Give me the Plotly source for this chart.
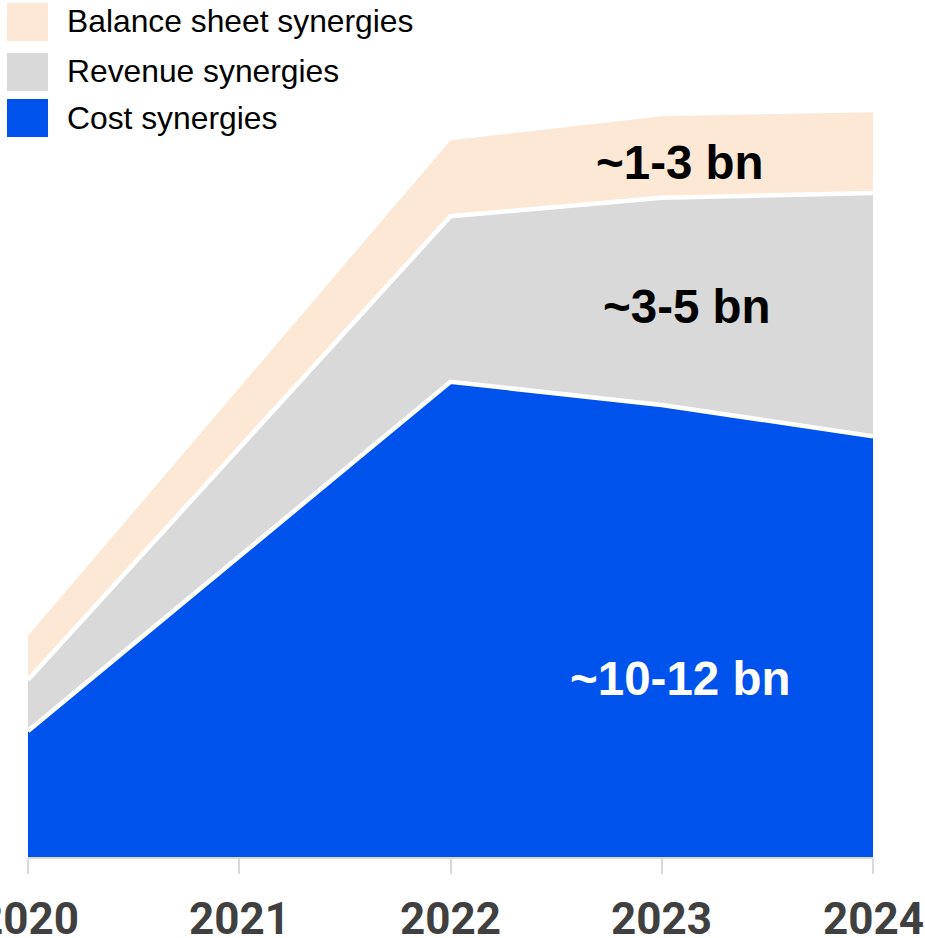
import plotly.graph_objects as go

# Synergy build-up by year (index units, stacked)
years = [2020, 2021, 2022, 2023, 2024]
cost = [15.75, 37.5, 59.4, 56.5, 52.6]
revenue = [6.4, 13.6, 20.7, 25.9, 30.4]
balance = [5.5, 7.5, 9.5, 10.2, 10.1]

series_names = ["Cost synergies", "Revenue synergies", "Balance sheet synergies"]
series_colors = ["#0052EC", "#D9D9D9", "#FCE8D5"]
band_labels = ["~10-12 bn", "~3-5 bn", "~1-3 bn"]

W, H = 925, 938
L, R, T, B = 28, 52, 57, 81
plot_w = W - L - R
plot_h = H - T - B

fig = go.Figure()
for vals, name, color, lw in zip([cost, revenue, balance], series_names, series_colors, [4.5, 4.5, 0]):
    fig.add_trace(go.Scatter(
        x=years, y=vals, name=name, mode="lines",
        stackgroup="s", fillcolor=color,
        line=dict(color="white", width=lw),
        showlegend=False, hoverinfo="skip",
    ))

# Band labels placed in the right half of each band
label_pos = [
    (2023.085, 22.3, "white"),
    (2023.12, 68.8, "black"),
    (2023.085, 86.8, "black"),
]
annotations = []
for (xv, yv, col), txt in zip(label_pos, band_labels):
    annotations.append(dict(
        x=xv, y=yv, xref="x", yref="y", text=f"<b>{txt}</b>", showarrow=False,
        font=dict(family="Liberation Sans, Arial", size=47.5, color=col),
        xanchor="center", yanchor="middle",
    ))

# Legend: swatches and names, top-left
def px_to_paper(px, py):
    return (px - L) / plot_w, (H - B - py) / plot_h

shapes = []
legend_rows = [
    (3, 41, series_names[2], series_colors[2]),
    (53, 91, series_names[1], series_colors[1]),
    (99, 137, series_names[0], series_colors[0]),
]
for y0, y1, name, color in legend_rows:
    x0p, y0p = px_to_paper(7, y1)
    x1p, y1p = px_to_paper(48, y0)
    shapes.append(dict(type="rect", xref="paper", yref="paper",
                       x0=x0p, x1=x1p, y0=y0p, y1=y1p,
                       fillcolor=color, line=dict(width=0), layer="above"))
    tx, ty = px_to_paper(65, (y0 + y1) / 2 - 0.5)
    annotations.append(dict(
        x=tx, y=ty, xref="paper", yref="paper", text=name, showarrow=False,
        xanchor="left", yanchor="middle",
        font=dict(family="Liberation Sans, Arial", size=31.8, color="black"),
    ))

# Year labels under the axis ticks (kept even where they run past the page edge)
_, year_y = px_to_paper(0, 919)
for yr in years:
    annotations.append(dict(
        x=yr, y=year_y, xref="x", yref="paper", text=f"<b>{yr}</b>",
        showarrow=False, xanchor="center", yanchor="middle",
        font=dict(family="Roboto", size=44, color="#404040"),
    ))

fig.update_layout(
    width=W, height=H,
    margin=dict(l=L, r=R, t=T, b=B),
    paper_bgcolor="white", plot_bgcolor="white",
    annotations=annotations, shapes=shapes,
    xaxis=dict(
        range=[2020, 2024], tickmode="array", tickvals=years,
        showticklabels=False,
        showgrid=False, zeroline=False, automargin=False,
        showline=True, linecolor="#D9D9D9", linewidth=2,
        ticks="outside", ticklen=15, tickwidth=2, tickcolor="#D9D9D9",
    ),
    yaxis=dict(range=[0, 100], visible=False, showgrid=False, zeroline=False,
               automargin=False),
)

fig.write_html("out.html")
